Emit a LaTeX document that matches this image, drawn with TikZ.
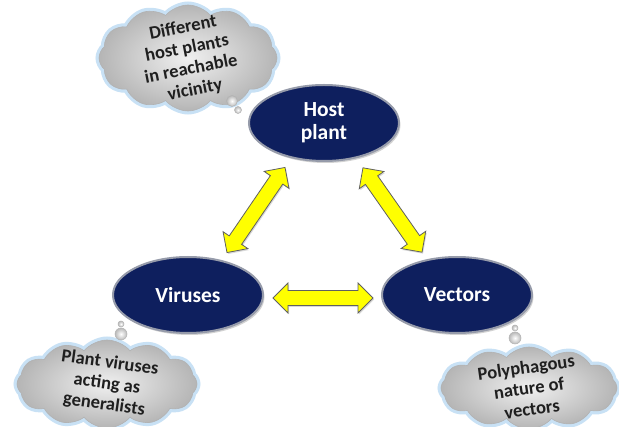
\documentclass[tikz,border=0pt]{standalone}
\usepackage{fontspec}
\setmainfont{Carlito}
\usetikzlibrary{shapes.geometric,shapes.symbols,shadows}
\definecolor{navy}{RGB}{14,31,94}
\definecolor{rimgray}{RGB}{150,155,170}
\definecolor{glow}{RGB}{200,225,245}
\definecolor{arrowyellow}{RGB}{255,255,0}
\newcommand{\bidir}[4]{%
  \begin{scope}[shift={#2},rotate=#3]
    \coordinate (#1) at (0,0);
    \path[yarrow] (-#4,0) -- (-#4+15,15) -- (-#4+15,7.5) -- (#4-15,7.5) -- (#4-15,15)
      -- (#4,0) -- (#4-15,-15) -- (#4-15,-7.5) -- (-#4+15,-7.5) -- (-#4+15,-15) -- cycle;
  \end{scope}}
\begin{document}
\begin{tikzpicture}[x=1pt,y=-1pt,
  hub/.style={ellipse, minimum width=150pt, minimum height=76pt, inner sep=0pt,
    fill=navy, draw=rimgray, line width=2pt,
    drop shadow={shadow xshift=1.5pt, shadow yshift=-2pt, opacity=0.35},
    text=white, font=\fontsize{21.5}{23}\selectfont\bfseries, align=center},
  thought/.style={cloud, cloud puffs=12, cloud puff arc=100, aspect=1.8, inner sep=0pt,
    preaction={draw=glow, line width=7pt}, draw=gray!60, line width=0.6pt,
    inner color=gray!12, outer color=gray!58},
  thoughttext/.style={font=\fontsize{18.5}{21}\selectfont\bfseries, text=black!88, align=center},
  bubble/.style={circle, inner sep=0pt, draw=gray!60, line width=0.5pt,
    inner color=white, outer color=gray!55},
  yarrow/.style={fill=arrowyellow, draw=gray!75!black, line width=0.8pt,
    drop shadow={shadow xshift=1pt, shadow yshift=-1.5pt, opacity=0.3}}]
\useasboundingbox[fill=white] (0,0) rectangle (619,427);

% thought clouds
\node[thought, minimum width=178pt, minimum height=106pt] (c1) at (188,58) {};
\node[thoughttext, rotate=11] (t1) at (189,59) {Different\\host plants\\in reachable\\vicinity};
\node[bubble, minimum size=11pt] (b1a) at (232,101) {};
\node[bubble, minimum size=7pt] (b1b) at (238,110) {};

\node[thought, minimum width=180pt, minimum height=88pt] (c2) at (107,384) {};
\node[thoughttext, rotate=-8] (t2) at (c2.center) {Plant viruses\\acting as\\generalists};
\node[bubble, minimum size=12pt] (b2a) at (121,334) {};
\node[bubble, minimum size=6pt] (b2b) at (121,324) {};

\node[thought, minimum width=176pt, minimum height=82pt] (c3) at (529,388) {};
\node[thoughttext, rotate=8] (t3) at (c3.center) {Polyphagous\\nature of\\vectors};
\node[bubble, minimum size=12pt] (b3a) at (515,338) {};
\node[bubble, minimum size=6pt] (b3b) at (515,328) {};

% hubs
\node[hub] (host) at (324,123) {Host\\plant};
\node[hub] (vir) at (188,295) {Viruses};
\node[hub] (vec) at (457,295) {Vectors};

% double arrows
\bidir{hv}{(256,210)}{55.7}{51.5}
\bidir{hw}{(392.5,210)}{-55}{51.5}
\bidir{vw}{(323,298)}{0}{50}
\end{tikzpicture}
\end{document}
